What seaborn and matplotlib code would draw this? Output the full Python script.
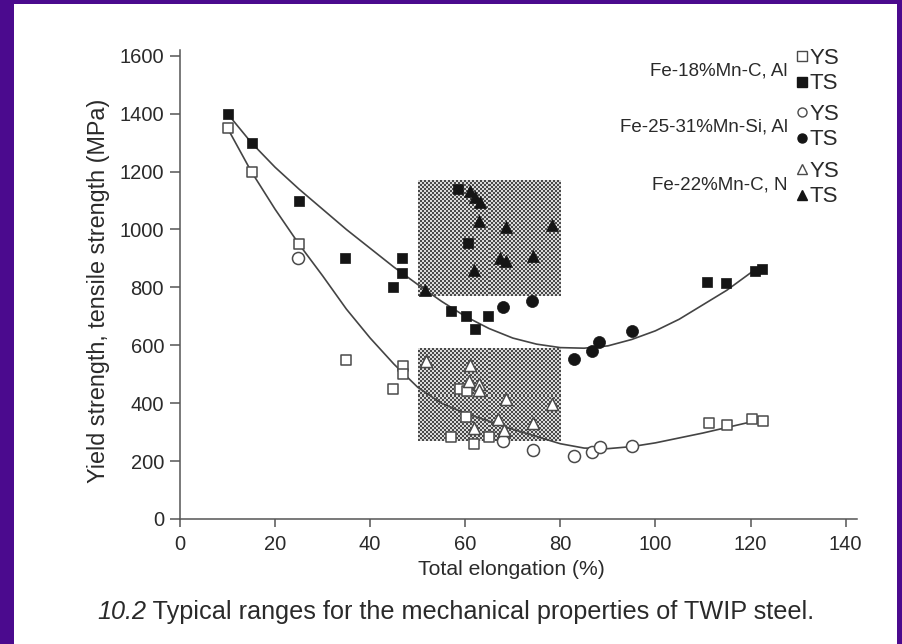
import matplotlib
matplotlib.use('Agg')
import matplotlib.pyplot as plt
import seaborn as sns
import numpy as np
from matplotlib.lines import Line2D
from matplotlib.patches import Rectangle
from matplotlib.colors import ListedColormap

# ---------------- data ----------------
# Fe-18%Mn-C, Al  (squares)
ts18_x = [10, 15.2, 25, 34.8, 46.8, 46.8, 44.9, 58.5, 60.6, 57.1, 60.1, 64.8, 62.0, 110.9, 114.8, 120.9, 122.5]
ts18_y = [1400, 1300, 1100, 900, 900, 850, 800, 1140, 955, 720, 700, 700, 655, 820, 815, 858, 864]
ys18_x = [10, 15.2, 25, 35, 47, 47, 44.9, 58.9, 60.3, 60.1, 56.9, 61.8, 65.0, 111.3, 115.1, 120.4, 122.7]
ys18_y = [1350, 1200, 950, 550, 528, 500, 450, 450, 441, 353, 282, 258, 282, 333, 326, 347, 338]

# Fe-25-31%Mn-Si, Al  (circles)
ts25_x = [68, 74, 82.9, 86.7, 88.2, 95.1]
ts25_y = [732, 753, 552, 580, 611, 650]
ys25_x = [24.9, 68, 74.2, 82.9, 86.7, 88.3, 95.1]
ys25_y = [902, 269, 240, 217, 232, 249, 253]

# Fe-22%Mn-C, N  (triangles)
ts22_x = [51.5, 61, 62, 63.1, 62.9, 68.6, 78.2, 67.3, 68.5, 74.2, 61.8]
ts22_y = [792, 1134, 1111, 1094, 1029, 1010, 1014, 902, 890, 910, 861]
ys22_x = [51.8, 61.1, 60.8, 62.9, 62.9, 68.6, 78.2, 66.8, 74.2, 61.8, 68.2]
ys22_y = [547, 531, 476, 468, 445, 413, 397, 345, 330, 316, 309]

# trend curves
curve_x = [10, 15, 20, 25, 30, 35, 40, 45, 50, 55, 60, 65, 70, 75, 80, 85, 90, 95, 100, 105, 110, 115, 120, 121]
ts_curve = [1400, 1300, 1215, 1140, 1070, 1000, 935, 870, 810, 752, 700, 658, 625, 604, 592, 590, 598, 620, 650, 690, 740, 790, 850, 862]
ys_curve = [1350, 1200, 1070, 950, 840, 725, 625, 535, 455, 400, 365, 338, 310, 285, 260, 245, 243, 250, 263, 280, 297, 316, 335, 340]

# shaded ranges [x0, x1, y0, y1]
ts_range = [50, 80, 770, 1170]
ys_range = [50, 80, 270, 590]

x_ticks = [0, 20, 40, 60, 80, 100, 120, 140]
y_ticks = [0, 200, 400, 600, 800, 1000, 1200, 1400, 1600]

# ---------------- style ----------------
sns.set_style('ticks')
plt.rcParams['font.family'] = ['Liberation Sans', 'DejaVu Sans']
TXT = '#2a2a2a'
AX = '#555555'

fig = plt.figure(figsize=(9.02, 6.44), dpi=100)
fig.patch.set_facecolor('#4b0a8e')
fig.add_artist(Rectangle((14 / 902, 0), (897 - 14) / 902, 1 - 4 / 644,
                         transform=fig.transFigure, facecolor='white',
                         edgecolor='none', zorder=-10))

ax = fig.add_axes([180 / 902, 1 - 519 / 644, 677 / 902, 469 / 644])
ax.set_facecolor('none')

# shaded checkered ranges
cmap = ListedColormap(['#dadada', '#4a4a4a'])
for rng, rows in ((ts_range, 58), (ys_range, 46)):
    cols = 71
    chk = np.add.outer(np.arange(rows), np.arange(cols)) % 2
    ax.imshow(chk, extent=rng, aspect='auto', cmap=cmap,
              interpolation='nearest', zorder=1)

# curves
sns.lineplot(x=curve_x, y=ts_curve, ax=ax, color='#444444', lw=1.2,
             estimator=None, zorder=2)
sns.lineplot(x=curve_x, y=ys_curve, ax=ax, color='#444444', lw=1.2,
             estimator=None, zorder=2)

FILL = '#151515'
OPEN_EDGE = '#4a4a4a'
series = [
    (ts18_x, ts18_y, 's', True, 60),
    (ys18_x, ys18_y, 's', False, 60),
    (ts25_x, ts25_y, 'o', True, 75),
    (ys25_x, ys25_y, 'o', False, 75),
    (ts22_x, ts22_y, '^', True, 75),
    (ys22_x, ys22_y, '^', False, 75),
]
for xs, ys, mk, filled, s in series:
    if filled:
        sns.scatterplot(x=xs, y=ys, ax=ax, marker=mk, s=s, color=FILL,
                        edgecolor=FILL, linewidth=0.5, zorder=3)
    else:
        sns.scatterplot(x=xs, y=ys, ax=ax, marker=mk, s=s, color='white',
                        edgecolor=OPEN_EDGE, linewidth=1.1, zorder=3)

ax.set_xlim(0, 142.4)
ax.set_ylim(0, 1620)
ax.set_xticks(x_ticks)
ax.set_yticks(y_ticks)
ax.tick_params(axis='both', direction='out', length=7.5, width=1.1,
               color=AX, labelsize=14.5, labelcolor=TXT)
ax.tick_params(axis='y', pad=4)
ax.tick_params(axis='x', pad=5.5, length=6)
for side in ('top', 'right'):
    ax.spines[side].set_visible(False)
for side in ('left', 'bottom'):
    ax.spines[side].set_color(AX)
    ax.spines[side].set_linewidth(1.1)

ax.set_xlabel('Total elongation (%)', fontsize=15.2, color=TXT)
ax.xaxis.set_label_coords((511 - 180) / 677, (519 - 560) / 469)
ax.set_ylabel('Yield strength, tensile strength (MPa)', fontsize=16.8, color=TXT)
ax.yaxis.set_label_coords((110 - 180) / 677, (519 - 291) / 469)

# legends
groups = [
    ('Fe-18%Mn-C, Al', 's', 71, 48),
    ('Fe-25-31%Mn-Si, Al', 'o', 127, 104),
    ('Fe-22%Mn-C, N', '^', 185, 161),
]
for name, mk, ylab, ytop in groups:
    fig.text(788 / 902, 1 - ylab / 644, name, ha='right', va='center',
             fontsize=13.5, color=TXT)
    handles = [Line2D([], [], marker=mk, ls='none', mfc='white', mec=OPEN_EDGE,
                      mew=1.0, ms=6.5),
               Line2D([], [], marker=mk, ls='none', mfc=FILL, mec=FILL, ms=6.5)]
    fig.legend(handles=handles, labels=['YS', 'TS'], loc='upper left',
               bbox_to_anchor=(797 / 902, 1 - ytop / 644),
               bbox_transform=fig.transFigure, frameon=False,
               handlelength=0.45, handletextpad=0.12, labelspacing=0.2,
               borderpad=0, borderaxespad=0, fontsize=16, labelcolor=TXT)

# caption
t1 = fig.text(97 / 902, 1 - 612 / 644, '10.2', style='italic', fontsize=18.2,
              va='center', ha='left', color=TXT)
ax.annotate(' Typical ranges for the mechanical properties of TWIP steel.',
            xy=(1, 0), xycoords=t1, va='bottom', ha='left', fontsize=18.2,
            color=TXT, annotation_clip=False)

fig.savefig('out.png', dpi=100)
